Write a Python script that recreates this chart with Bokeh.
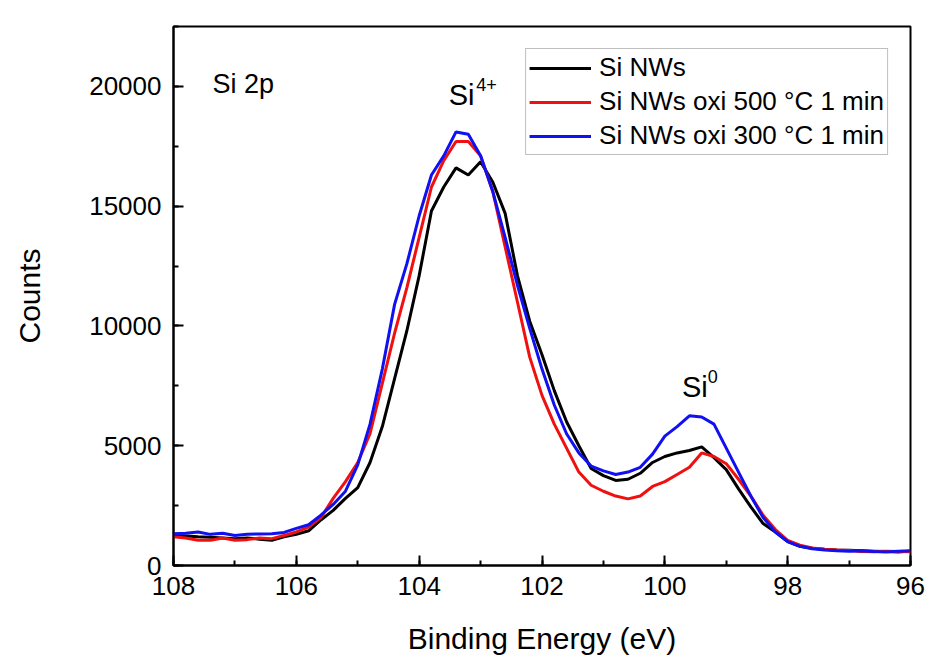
from bokeh.plotting import figure
from bokeh.models import Range1d, Legend, LegendItem, SingleIntervalTicker, Label
from bokeh.embed import file_html
from bokeh.resources import INLINE

energy = [108.0, 107.8, 107.6, 107.4, 107.2, 107.0, 106.8, 106.6, 106.4, 106.2,
          106.0, 105.8, 105.6, 105.4, 105.2, 105.0, 104.8, 104.6, 104.4, 104.2,
          104.0, 103.8, 103.6, 103.4, 103.2, 103.0, 102.8, 102.6, 102.4, 102.2,
          102.0, 101.8, 101.6, 101.4, 101.2, 101.0, 100.8, 100.6, 100.4, 100.2,
          100.0, 99.8, 99.6, 99.4, 99.2, 99.0, 98.8, 98.6, 98.4, 98.2,
          98.0, 97.8, 97.6, 97.4, 97.2, 97.0, 96.8, 96.6, 96.4, 96.2, 96.0]

si_nws = [1250, 1230, 1200, 1180, 1150, 1120, 1150, 1100, 1050, 1200,
          1300, 1450, 1900, 2300, 2800, 3250, 4300, 5800, 7800, 9800,
          12100, 14800, 15800, 16600, 16300, 16850, 16000, 14700, 12100, 10200,
          8800, 7300, 6000, 5000, 4050, 3750, 3550, 3600, 3850, 4300,
          4550, 4700, 4800, 4950, 4500, 4000, 3200, 2450, 1750, 1400,
          1000, 800, 720, 680, 650, 640, 620, 600, 580, 560, 600]

oxi_500 = [1200, 1150, 1050, 1050, 1150, 1050, 1080, 1150, 1120, 1250,
           1400, 1600, 2000, 2800, 3500, 4300, 5500, 7600, 9700, 11600,
           13700, 15800, 16900, 17700, 17700, 17100, 15600, 13300, 11000, 8700,
           7100, 5900, 4900, 3900, 3350, 3100, 2900, 2780, 2900, 3300,
           3500, 3800, 4100, 4700, 4550, 4250, 3600, 2900, 2100, 1500,
           1050, 850, 730, 680, 650, 630, 580, 570, 600, 580, 570]

oxi_300 = [1330, 1350, 1400, 1300, 1350, 1250, 1300, 1320, 1330, 1380,
           1550, 1700, 2100, 2550, 3100, 4200, 5900, 8200, 10900, 12600,
           14600, 16300, 17100, 18100, 18000, 17100, 15600, 13700, 11700, 9900,
           8200, 6700, 5500, 4700, 4150, 3950, 3800, 3900, 4100, 4650,
           5400, 5800, 6250, 6200, 5900, 4900, 3900, 2900, 2000, 1400,
           1000, 800, 700, 650, 620, 600, 620, 580, 560, 600, 620]

series_names = ["Si NWs", "Si NWs oxi 500 \u00b0C 1 min", "Si NWs oxi 300 \u00b0C 1 min"]
series_colors = ["#000000", "#f01010", "#1010f0"]

FONT = "Liberation Sans"

p = figure(width=928, height=657, output_backend="svg", toolbar_location=None,
           x_range=Range1d(108, 96), y_range=Range1d(0, 22500),
           min_border_left=173, min_border_right=18, min_border_top=26,
           min_border_bottom=90)
p.background_fill_color = "white"
p.border_fill_color = "white"
p.grid.visible = False
p.outline_line_color = "black"
p.outline_line_width = 2

renderers = []
for vals, col in zip([si_nws, oxi_500, oxi_300], series_colors):
    r = p.line(energy, vals, line_color=col, line_width=3)
    renderers.append(r)

legend = Legend(items=[LegendItem(label=n, renderers=[r]) for n, r in zip(series_names, renderers)])
legend.location = "top_right"
legend.label_text_font = FONT
legend.label_text_font_size = "26px"
legend.label_text_color = "black"
legend.label_text_baseline = "middle"
legend.glyph_width = 62
legend.glyph_height = 30
legend.label_height = 30
legend.label_standoff = 8
legend.spacing = 3
legend.padding = 3
legend.margin = 22
legend.border_line_color = "#808080"
legend.border_line_width = 1
legend.background_fill_alpha = 1
p.add_layout(legend)

p.xaxis.ticker = SingleIntervalTicker(interval=2, num_minor_ticks=2)
p.yaxis.ticker = SingleIntervalTicker(interval=5000, num_minor_ticks=2)

for ax in [p.xaxis[0], p.yaxis[0]]:
    ax.axis_line_width = 2
    ax.axis_line_color = "black"
    ax.major_tick_in = 10
    ax.major_tick_out = 0
    ax.minor_tick_in = 5
    ax.minor_tick_out = 0
    ax.major_tick_line_width = 2
    ax.minor_tick_line_width = 2
    ax.major_label_text_font = FONT
    ax.major_label_text_font_size = "26px"
    ax.major_label_text_color = "black"
    ax.axis_label_text_font = FONT
    ax.axis_label_text_font_size = "30px"
    ax.axis_label_text_font_style = "normal"
    ax.axis_label_text_color = "black"

p.xaxis.major_label_standoff = 11
p.yaxis.major_label_standoff = 12
p.xaxis.axis_label = "Binding Energy (eV)"
p.yaxis.axis_label = "Counts"
p.xaxis.axis_label_standoff = 24
p.yaxis.axis_label_standoff = 40

labels = [
    ("Si 2p", 107.365, 20080, "27px"),
    ("Si", 103.52, 19620, "29px"),
    ("4+", 103.07, 20080, "18px"),
    ("Si", 99.72, 7450, "29px"),
    ("0", 99.30, 7910, "18px"),
]
for txt, x, y, fs in labels:
    p.add_layout(Label(x=x, y=y, text=txt, text_font=FONT, text_font_size=fs,
                       text_color="black", text_baseline="alphabetic"))

open("out.html", "w").write(file_html(p, INLINE))
